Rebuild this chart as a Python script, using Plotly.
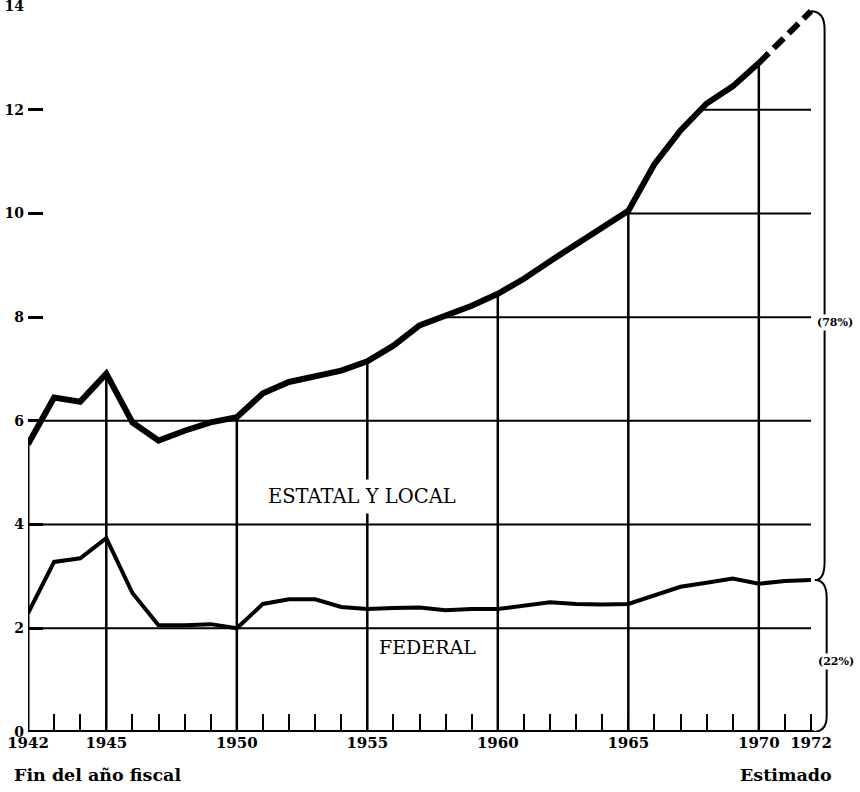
import numpy as np
import plotly.graph_objects as go

# ---- data (billions) ----
years = list(range(1942, 1971))
total = [5.55, 6.45, 6.37, 6.91, 5.97, 5.62, 5.81, 5.97, 6.07, 6.53, 6.75, 6.86,
         6.97, 7.15, 7.45, 7.84, 8.03, 8.22, 8.45, 8.74, 9.08, 9.40, 9.75, 10.05,
         10.95, 11.60, 12.12, 12.45, 12.90]
est_years = [1970, 1972]
est_total = [12.90, 13.90]
fed_years = list(range(1942, 1973))
federal = [2.29, 3.28, 3.35, 3.74, 2.68, 2.06, 2.06, 2.08, 2.00, 2.47, 2.56, 2.56,
           2.41, 2.37, 2.39, 2.40, 2.35, 2.37, 2.37, 2.44, 2.50, 2.47, 2.46, 2.47,
           2.64, 2.80, 2.88, 2.96, 2.86, 2.91, 2.93]
tick_years = list(range(1942, 1973))
labeled_years = [1942, 1945, 1950, 1955, 1960, 1965, 1970, 1972]
y_ticks = [0, 2, 4, 6, 8, 10, 12, 14]
full_grid = [2, 4, 6]
partial_grid = [8, 10, 12]
vert_years = [1942, 1945, 1950, 1955, 1960, 1965, 1970]
pct_state = "(78%)"
pct_fed = "(22%)"

X0, X1 = 1942, 1972
SERIF = "DejaVu Serif"

fig = go.Figure()

fig.add_trace(go.Scatter(x=years, y=total, mode="lines",
                         line=dict(color="black", width=6), cliponaxis=False,
                         hoverinfo="skip"))
fig.add_trace(go.Scatter(x=est_years, y=est_total, mode="lines",
                         line=dict(color="black", width=6, dash="14px,7px"),
                         cliponaxis=False, hoverinfo="skip"))
fig.add_trace(go.Scatter(x=fed_years, y=federal, mode="lines",
                         line=dict(color="black", width=4), cliponaxis=False,
                         hoverinfo="skip"))

shapes = []
# horizontal grid lines
for lv in full_grid:
    shapes.append(dict(type="line", xref="x", yref="y", x0=X0, x1=X1, y0=lv, y1=lv,
                       line=dict(color="black", width=2), layer="below"))
tarr = np.array(total)
for lv in partial_grid:
    i = int(np.argmax((tarr >= lv) & (np.arange(len(tarr)) > 8)))
    xs = years[i - 1] + (lv - total[i - 1]) / (total[i] - total[i - 1])
    shapes.append(dict(type="line", xref="x", yref="y", x0=xs, x1=X1, y0=lv, y1=lv,
                       line=dict(color="black", width=2), layer="below"))
# vertical lines up to the total curve
for yr in vert_years:
    v = total[years.index(yr)]
    shapes.append(dict(type="line", xref="x", yref="y", x0=yr, x1=yr, y0=0, y1=v,
                       line=dict(color="black", width=3 if yr == X0 else 2.5),
                       layer="below"))
# baseline
shapes.append(dict(type="line", xref="x", yref="y", x0=X0, x1=X1 + 0.1, y0=0, y1=0,
                   line=dict(color="black", width=4)))
# braces
T = est_total[-1]
F = federal[-1]
xb = X1 + 0.52
xb2 = X1 + 0.6
top_path = (f"M {X1},{T} Q {xb},{T} {xb},{T - 0.35} L {xb},{F + 0.35} "
            f"Q {xb},{F} {X1 + 0.15},{F}")
bot_path = (f"M {X1 + 0.15},{F} Q {xb2},{F} {xb2},{F - 0.35} L {xb2},{0.3} "
            f"Q {xb2},{0} {X1 + 0.05},{0}")
for p in (top_path, bot_path):
    shapes.append(dict(type="path", xref="x", yref="y", path=p,
                       line=dict(color="black", width=2)))

annotations = [
    dict(x=1954.8, y=4.54, xref="x", yref="y", text="ESTATAL Y LOCAL",
         showarrow=False, font=dict(family=SERIF, size=19.5, color="black"),
         bgcolor="white", borderpad=5),
    dict(x=1957.3, y=1.64, xref="x", yref="y", text="FEDERAL",
         showarrow=False, font=dict(family=SERIF, size=19, color="black")),
    dict(x=X1 + 0.92, y=7.9, xref="x", yref="y", text=pct_state, showarrow=False,
         font=dict(family=SERIF, size=11, color="black", weight="bold"),
         bgcolor="white", borderpad=1),
    dict(x=X1 + 0.95, y=1.35, xref="x", yref="y", text=pct_fed, showarrow=False,
         font=dict(family=SERIF, size=11, color="black", weight="bold"),
         bgcolor="white", borderpad=1),
    dict(x=0, y=0, xref="paper", yref="paper", xanchor="left",
         yanchor="middle", xshift=-16, yshift=-43, text="Fin del año fiscal",
         showarrow=False,
         font=dict(family=SERIF, size=17.5, color="black", weight="bold")),
    dict(x=1, y=0, xref="paper", yref="paper", xanchor="right",
         yanchor="middle", xshift=-24, yshift=-43, text="Estimado", showarrow=False,
         font=dict(family=SERIF, size=17.5, color="black", weight="bold")),
]

fig.update_layout(
    width=860, height=792,
    margin=dict(l=28, r=2, t=6, b=60, autoexpand=False),
    paper_bgcolor="white", plot_bgcolor="white",
    showlegend=False,
    shapes=shapes, annotations=annotations,
    xaxis=dict(range=[X0, 1973.8], showgrid=False, zeroline=False, showline=False,
               automargin=False,
               tickmode="array", tickvals=tick_years,
               ticktext=[str(y) if y in labeled_years else "" for y in tick_years],
               ticks="inside", ticklen=18, tickwidth=2, tickcolor="black",
               tickfont=dict(family=SERIF, size=15, color="black", weight="bold")),
    yaxis=dict(range=[0, 14], showgrid=False, zeroline=False, showline=False,
               automargin=False, ticklabeloverflow="allow",
               tickmode="array", tickvals=y_ticks,
               ticks="inside", ticklen=15, tickwidth=3, tickcolor="black",
               ticklabelstandoff=3,
               tickfont=dict(family=SERIF, size=14, color="black", weight="bold")),
)

fig.write_html("out.html", config={"displayModeBar": False},
               post_script="document.body.style.margin='0';document.body.style.overflow='hidden';")
